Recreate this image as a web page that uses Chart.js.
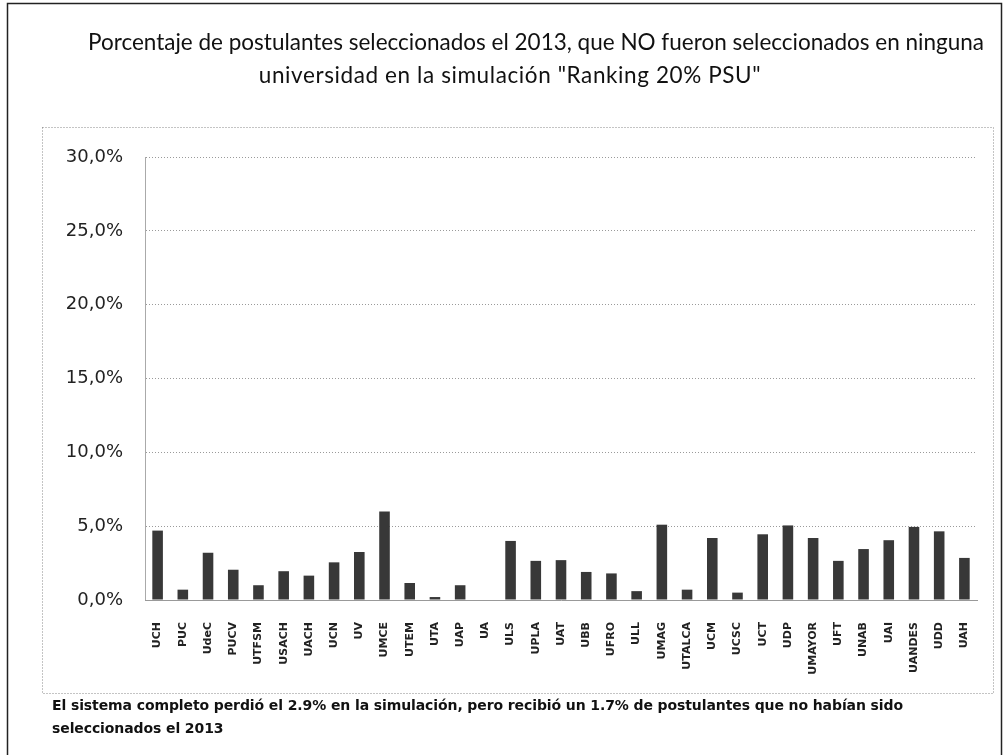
<!DOCTYPE html>
<html>
<head>
<meta charset="utf-8">
<script src="https://cdn.jsdelivr.net/npm/chart.js@4.4.1/dist/chart.umd.min.js"></script>
<style>
  html, body { margin: 0; padding: 0; background: #fff; }
  #wrap { position: relative; width: 1006px; height: 755px; overflow: hidden; }
  #c { position: absolute; left: 0; top: 0; }
  .title {
    position: absolute; left: 0; width: 1006px; text-align: center;
    font-family: Lato, "Open Sans", sans-serif; font-size: 22.5px; line-height: 33px;
    color: #111; box-sizing: border-box;
  }
  .t1 { top: 25px; padding-left: 66px; }
  .t2 { top: 58px; padding-left: 14px; letter-spacing: 0.6px; }
  .foot {
    position: absolute; left: 52px; top: 694px;
    font-family: "DejaVu Sans", sans-serif; font-size: 14px; line-height: 23px;
    font-weight: bold; color: #111; letter-spacing: -0.1px;
  }
</style>
</head>
<body>
<div id="wrap">
  <canvas id="c" width="1006" height="755"></canvas>
  <div class="title t1">Porcentaje de postulantes seleccionados el 2013, que NO fueron seleccionados en ninguna</div>
  <div class="title t2">universidad en la simulación "Ranking 20% PSU"</div>
  <div class="foot">El sistema completo perdió el 2.9% en la simulación, pero recibió un 1.7% de postulantes que no habían sido<br>seleccionados el 2013</div>
</div>
<script>
// Universities
const universidades = ["UCH", "PUC", "UdeC", "PUCV", "UTFSM", "USACH", "UACH", "UCN", "UV", "UMCE",
  "UTEM", "UTA", "UAP", "UA", "ULS", "UPLA", "UAT", "UBB", "UFRO", "ULL", "UMAG", "UTALCA",
  "UCM", "UCSC", "UCT", "UDP", "UMAYOR", "UFT", "UNAB", "UAI", "UANDES", "UDD", "UAH"];

// % not selected (values in percent)
const porcentajes = [4.7, 0.7, 3.2, 2.05, 1.0, 1.95, 1.65, 2.55, 3.25, 6.0,
  1.15, 0.2, 1.0, 0.0, 4.0, 2.65, 2.7, 1.9, 1.8, 0.6, 5.1, 0.7,
  4.2, 0.5, 4.45, 5.05, 4.2, 2.65, 3.45, 4.05, 4.95, 4.65, 2.85];

const yTicks = [0, 5, 10, 15, 20, 25, 30];

// Frame around the chart
const frame = {
  id: "frame",
  beforeDraw(chart) {
    var ctx = chart.ctx;
    ctx.save();
    ctx.fillStyle = "#fff";
    ctx.fillRect(0, 0, chart.width, chart.height);
    ctx.strokeStyle = "#222";
    ctx.lineWidth = 1.5;
    ctx.strokeRect(7.5, 3.5, 994, 760);
    ctx.strokeStyle = "#888";
    ctx.lineWidth = 1;
    ctx.setLineDash([1, 2]);
    ctx.strokeRect(42.5, 127.5, 951, 566);
    ctx.restore();
  },
};

var ctx = document.getElementById("c").getContext("2d");
var myChart = new Chart(ctx, {
  type: "bar",
  data: {
    labels: universidades,
    datasets: [
      {
        data: porcentajes,
        backgroundColor: "#383838",
        borderWidth: 0,
        barPercentage: 0.42,
        categoryPercentage: 1,
      },
    ],
  },
  plugins: [frame],
  options: {
    responsive: false,
    animation: false,
    layout: { padding: { left: 0, right: 29, top: 157, bottom: 0 } },
    plugins: {
      legend: { display: false },
      tooltip: { enabled: false },
    },
    scales: {
      y: {
        min: 0,
        max: 30,
        afterFit: function (scale) { scale.width = 145; },
        afterBuildTicks: function (scale) { scale.ticks = yTicks.map(function (v) { return { value: v }; }); },
        ticks: {
          padding: 22,
          color: "#222",
          font: { family: "DejaVu Sans", size: 18 },
          callback: function (v) { return v.toFixed(1).replace(".", ",") + "%"; },
        },
        grid: { color: "#9a9a9a", drawTicks: false },
        border: { color: "#aaa", dash: [1, 2] },
      },
      x: {
        afterFit: function (scale) { scale.height = 155; },
        ticks: {
          minRotation: 90,
          maxRotation: 90,
          padding: 14,
          autoSkip: false,
          color: "#222",
          font: { family: "DejaVu Sans", size: 11, weight: "bold" },
        },
        grid: { display: false },
        border: { color: "#999" },
      },
    },
  },
});
</script>
</body>
</html>
